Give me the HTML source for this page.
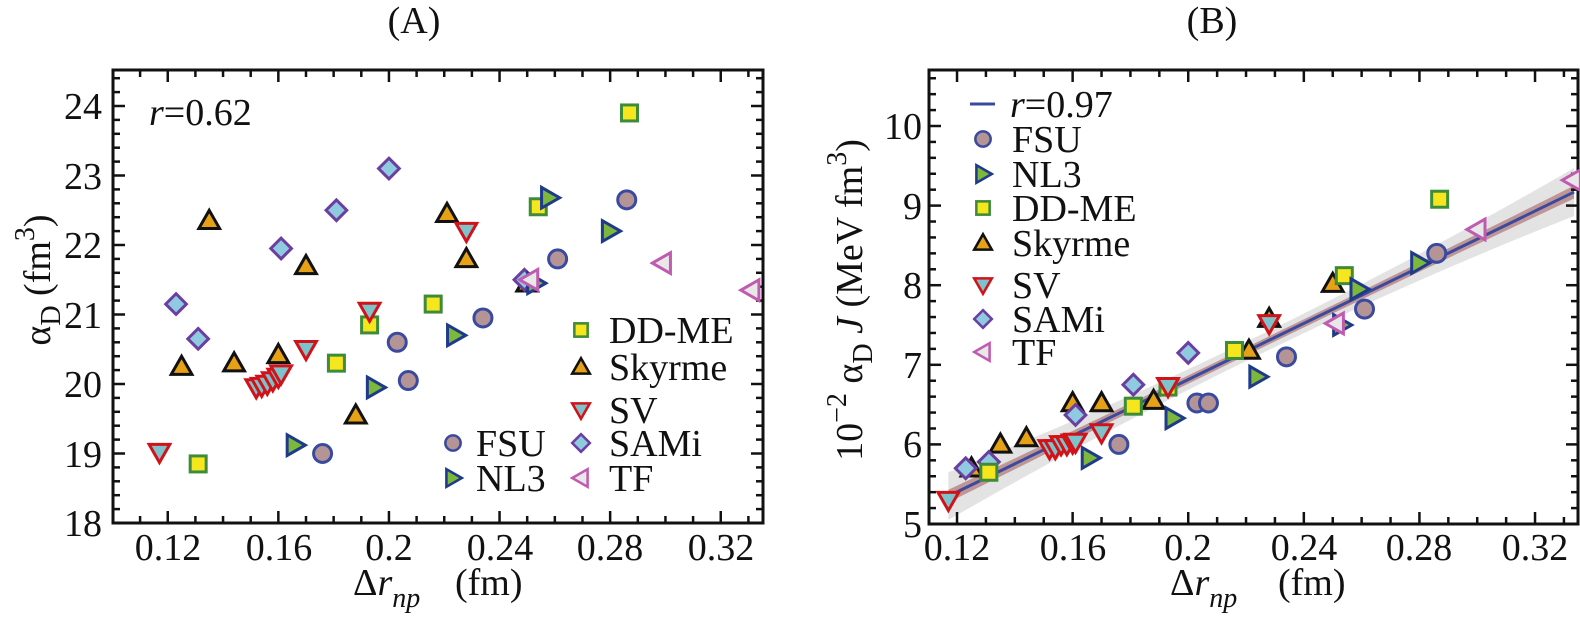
<!DOCTYPE html>
<html><head><meta charset="utf-8"><style>
html,body{margin:0;padding:0;background:#fff;}
body, svg, svg text, svg tspan{font-family:"Liberation Serif","Times New Roman",Times,"DejaVu Serif",serif !important;}
</style></head><body>
<svg id="s" width="1580" height="617" viewBox="0 0 1580 617" xmlns="http://www.w3.org/2000/svg" style="font-family:'Liberation Serif','Times New Roman',Times,serif">
<g font-size="38" fill="#111" style="font-family:'Liberation Serif','Times New Roman',Times,serif">
<text x="414" y="33" text-anchor="middle">(A)</text>
<text x="1212" y="33" text-anchor="middle">(B)</text>
<g text-anchor="end">
<text x="102" y="119">24</text><text x="102" y="189">23</text><text x="102" y="258">22</text><text x="102" y="328">21</text><text x="102" y="397">20</text><text x="102" y="467">19</text><text x="102" y="536">18</text>
</g>
<g text-anchor="middle">
<text x="168" y="560">0.12</text><text x="279" y="560">0.16</text><text x="389" y="560">0.2</text><text x="500" y="560">0.24</text><text x="610" y="560">0.28</text><text x="721" y="560">0.32</text>
</g>
<g text-anchor="end">
<text x="922" y="139">10</text><text x="922" y="219">9</text><text x="922" y="298">8</text><text x="922" y="378">7</text><text x="922" y="457">6</text><text x="922" y="537">5</text>
</g>
<g text-anchor="middle">
<text x="957" y="560">0.12</text><text x="1073" y="560">0.16</text><text x="1188" y="560">0.2</text><text x="1304" y="560">0.24</text><text x="1419" y="560">0.28</text><text x="1535" y="560">0.32</text>
</g>
<text x="149" y="125"><tspan font-style="italic">r</tspan>=0.62</text>
<text x="1010" y="117"><tspan font-style="italic">r</tspan>=0.97</text>
<text x="609" y="343">DD-ME</text><text x="609" y="380">Skyrme</text><text x="609" y="423">SV</text><text x="609" y="456">SAMi</text><text x="609" y="491">TF</text>
<text x="476" y="456">FSU</text><text x="476" y="491">NL3</text>
<text x="1012" y="152">FSU</text><text x="1012" y="187">NL3</text><text x="1012" y="221">DD-ME</text><text x="1012" y="256">Skyrme</text><text x="1012" y="298">SV</text><text x="1012" y="332">SAMi</text><text x="1012" y="365">TF</text>
<text x="353" y="595">Δ<tspan font-style="italic">r</tspan><tspan font-style="italic" font-size="28" dy="12">np</tspan><tspan dy="-12" x="455">(fm)</tspan></text>
<text x="1170" y="595">Δ<tspan font-style="italic">r</tspan><tspan font-style="italic" font-size="28" dy="12">np</tspan><tspan dy="-12" x="1278">(fm)</tspan></text>
<text transform="translate(50,280) rotate(-90)" text-anchor="middle">α<tspan font-size="28" dy="10">D</tspan><tspan dy="-10"> (fm</tspan><tspan font-size="28" dy="-16">3</tspan><tspan dy="16">)</tspan></text>
<text transform="translate(862,300) rotate(-90)" text-anchor="middle">10<tspan font-size="28" dy="-16">−2</tspan><tspan dy="16"> α</tspan><tspan font-size="28" dy="10">D</tspan><tspan dy="-10" font-style="italic"> J</tspan><tspan>  (MeV fm</tspan><tspan font-size="28" dy="-16">3</tspan><tspan dy="16">)</tspan></text>
</g>
<g id="dyn"></g>
</svg>
<script>
var NS="http://www.w3.org/2000/svg",G=document.getElementById("dyn");
function el(t,a){var e=document.createElementNS(NS,t);for(var k in a)e.setAttribute(k,a[k]);G.appendChild(e);return e;}
var A={x0:113,x1:763,y0:70,y1:523,vx:0.1002,sx:2765,vy:18,sy:69.5,yb:523};
var B={x0:929,x1:1578,y0:70,y1:524,vx:0.1103,sx:2890,vy:5,sy:79.6,yb:524};
function px(P,x){return P.x0+(x-P.vx)*P.sx;}
function py(P,y){return P.yb-(y-P.vy)*P.sy;}
(function(){var P=B,up=[],lo=[],up2=[],lo2=[];
for(var i=0;i<=40;i++){var x=0.117+i*(0.3335-0.117)/40;var y=5.35+(x-0.117)*(9.17-5.35)/(0.3335-0.117);
var d=(x-0.225)/0.108;var w=0.12+0.18*d*d;var w2=0.05+0.03*d*d;
up.push(px(P,x)+","+py(P,y+w));lo.unshift(px(P,x)+","+py(P,y-w));up2.push(px(P,x)+","+py(P,y+w2));lo2.unshift(px(P,x)+","+py(P,y-w2));}
el("polygon",{points:up.concat(lo).join(" "),fill:"#e3e3e3"});
el("polygon",{points:up2.concat(lo2).join(" "),fill:"#bf9696"});
el("line",{x1:px(P,0.117),y1:py(P,5.35),x2:px(P,0.3335),y2:py(P,9.17),stroke:"#3b4a9e","stroke-width":3});
})();
function axes(P,xt,ymin,ymax){
el("rect",{x:P.x0,y:P.y0,width:P.x1-P.x0,height:P.y1-P.y0,fill:"none",stroke:"#111","stroke-width":3});
for(var i=0;;i++){var v=0.10+i*0.01;if(v>0.34)break;var X=px(P,v);if(X<P.x0+2||X>P.x1-2)continue;var mj=(Math.round(v*100)%4==0);var L=mj?12:7;
el("line",{x1:X,y1:P.y1,x2:X,y2:P.y1-L,stroke:"#111","stroke-width":2.5});el("line",{x1:X,y1:P.y0,x2:X,y2:P.y0+L,stroke:"#111","stroke-width":2.5});}
for(var j=0;;j++){var v=ymin+j*0.2;if(v>ymax)break;var Y=py(P,v);if(Y<P.y0+2||Y>P.y1-2)continue;var mj=(j%5==0);var L=mj?12:7;
el("line",{x1:P.x0,y1:Y,x2:P.x0+L,y2:Y,stroke:"#111","stroke-width":2.5});el("line",{x1:P.x1,y1:Y,x2:P.x1-L,y2:Y,stroke:"#111","stroke-width":2.5});}
}
axes(A,0,18,24.6);axes(B,0,5,10.8);
var ST={
FSU:{f:"#b59495",s:"#3a4aa0"},NL3:{f:"#7cb83c",s:"#1f3a8a"},DD:{f:"#f6e61e",s:"#3e8c3a"},
SK:{f:"#e6a214",s:"#111"},SV:{f:"#7cc3cb",s:"#d21219"},SA:{f:"#8fcae0",s:"#6b3f9f"},TF:{f:"#e8e8e8",s:"#c05cb0"}};
function mk(t,X,Y,sc){sc=sc||1;var c=ST[t],a={fill:c.f,stroke:c.s,"stroke-width":3*sc};var r=9*sc;
if(t=="FSU"){a.cx=X;a.cy=Y;a.r=r;el("circle",a);}
else if(t=="DD"){a.x=X-r+1;a.y=Y-r+1;a.width=2*r-2;a.height=2*r-2;el("rect",a);}
else{var p;var s=r*1.15;
if(t=="SK")p=[[X,Y-s],[X+s,Y+s*0.75],[X-s,Y+s*0.75]];
if(t=="SV")p=[[X,Y+s],[X+s,Y-s*0.75],[X-s,Y-s*0.75]];
if(t=="NL3")p=[[X+s,Y],[X-s*0.75,Y-s],[X-s*0.75,Y+s]];
if(t=="TF")p=[[X-s,Y],[X+s*0.75,Y-s],[X+s*0.75,Y+s]];
if(t=="SA")p=[[X,Y-s],[X+s,Y],[X,Y+s],[X-s,Y]];
a.points=p.map(function(q){return q.join(",")}).join(" ");el("polygon",a);}}
var dA={
SK:[[0.125,20.25],[0.135,22.35],[0.144,20.3],[0.160,20.42],[0.170,21.7],[0.188,19.55],[0.221,22.45],[0.228,21.8],[0.250,21.45]],
SA:[[0.123,21.15],[0.131,20.65],[0.161,21.95],[0.181,22.5],[0.200,23.1],[0.249,21.5]],
DD:[[0.131,18.85],[0.181,20.3],[0.193,20.85],[0.216,21.15],[0.254,22.55],[0.287,23.9]],
NL3:[[0.166,19.12],[0.195,19.95],[0.224,20.7],[0.253,21.45],[0.258,22.68],[0.280,22.2]],
FSU:[[0.176,19.0],[0.203,20.6],[0.207,20.05],[0.234,20.95],[0.261,21.8],[0.286,22.65]],
SV:[[0.117,19.02],[0.152,19.95],[0.154,19.97],[0.156,20.0],[0.158,20.05],[0.160,20.1],[0.161,20.15],[0.170,20.5],[0.193,21.05],[0.228,22.2]],
TF:[[0.251,21.5],[0.299,21.74],[0.331,21.35]]};
var dB={
SK:[[0.125,5.7],[0.135,6.0],[0.144,6.08],[0.160,6.52],[0.170,6.52],[0.188,6.55],[0.221,7.18],[0.228,7.58],[0.250,8.02]],
SA:[[0.123,5.7],[0.131,5.78],[0.161,6.37],[0.181,6.75],[0.200,7.15]],
DD:[[0.131,5.65],[0.181,6.48],[0.193,6.72],[0.216,7.18],[0.254,8.12],[0.287,9.08]],
NL3:[[0.166,5.83],[0.195,6.33],[0.224,6.85],[0.253,7.5],[0.259,7.95],[0.280,8.28]],
FSU:[[0.176,6.0],[0.203,6.52],[0.207,6.52],[0.234,7.1],[0.261,7.7],[0.286,8.4]],
SV:[[0.117,5.3],[0.152,5.95],[0.154,5.95],[0.156,6.0],[0.158,6.0],[0.160,6.02],[0.161,6.03],[0.170,6.15],[0.193,6.73],[0.228,7.52]],
TF:[[0.251,7.52],[0.300,8.7],[0.333,9.32]]};
["SK","SA","DD","NL3","FSU","SV","TF"].forEach(function(t){
dA[t].forEach(function(p){mk(t,px(A,p[0]),py(A,p[1]));});
dB[t].forEach(function(p){mk(t,px(B,p[0]),py(B,p[1]));});});
mk("DD",581,330,0.85);mk("SK",581,367,0.85);mk("SV",581,410,0.85);mk("SA",581,443,0.85);mk("TF",581,478,0.85);
mk("FSU",453,443,0.85);mk("NL3",453,478,0.85);
el("line",{x1:970,y1:104,x2:995,y2:104,stroke:"#3b4a9e","stroke-width":3});
mk("FSU",983,139,0.85);mk("NL3",983,174,0.85);mk("DD",983,208,0.85);mk("SK",983,243,0.85);mk("SV",983,285,0.85);mk("SA",983,319,0.85);mk("TF",983,352,0.85);
</script>
</body></html>
